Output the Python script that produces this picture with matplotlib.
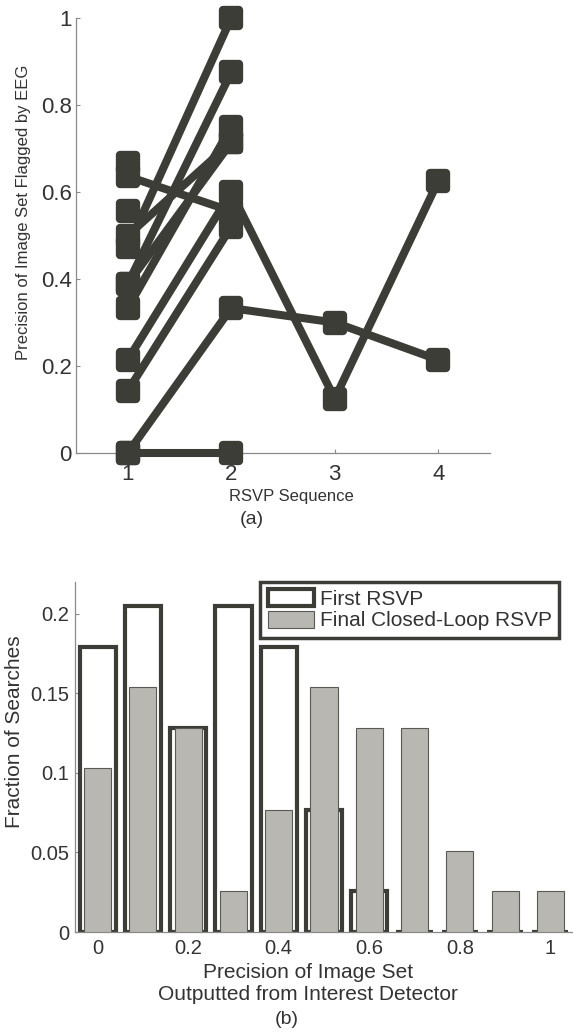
import matplotlib
matplotlib.use("Agg")
import matplotlib.pyplot as plt
from matplotlib.markers import MarkerStyle
from matplotlib.patches import Patch

plt.rcParams["font.family"] = ["Liberation Sans", "DejaVu Sans"]

# (a) precision of the image set flagged by EEG, one list per search
seq_a = [
    [0.474, 1.0],
    [0.389, 0.875],
    [0.333, 0.75],
    [0.389, 0.714],
    [0.5, 0.714],
    [0.636, 0.556],
    [0.667],
    [0.556],
    [0.214, 0.6, 0.125, 0.625],
    [0.143, 0.52],
    [0.0, 0.333, 0.3, 0.214],
    [0.0, 0.0],
]

# (b) histogram of precision, first vs final RSVP
bins_b = [0.0, 0.1, 0.2, 0.3, 0.4, 0.5, 0.6, 0.7, 0.8, 0.9, 1.0]
first_rsvp = [0.179, 0.205, 0.128, 0.205, 0.179, 0.077, 0.026, 0, 0, 0, 0]
final_rsvp = [0.103, 0.154, 0.128, 0.026, 0.077, 0.154, 0.128, 0.128, 0.051, 0.026, 0.026]

dark = "#3d3d37"
gray = "#b9b7b1"
txt = "#333333"
spine = "#8a8a8a"

fig = plt.figure(figsize=(5.73, 10.32), dpi=100)
W, H = 573, 1032


def style_axes(ax, fs):
    for s in ["top", "right"]:
        ax.spines[s].set_visible(False)
    for s in ["left", "bottom"]:
        ax.spines[s].set_color(spine)
        ax.spines[s].set_linewidth(0.9)
    ax.tick_params(direction="in", length=3, color=spine, labelcolor=txt,
                   labelsize=fs)


# ---- (a)
ax1 = fig.add_axes([76 / W, 1 - 453 / H, (490 - 76) / W, (453 - 18) / H])
rounded_sq = MarkerStyle("s", joinstyle="round")
for ys in seq_a:
    xs = list(range(1, len(ys) + 1))
    ax1.plot(xs, ys, "-", marker=rounded_sq, color=dark, lw=5.8, ms=11.5,
             mew=6, mfc=dark, mec=dark, solid_joinstyle="round",
             clip_on=False, zorder=3)
ax1.set_xlim(0.5, 4.5)
ax1.set_ylim(0, 1)
ax1.set_xticks([1, 2, 3, 4])
ax1.set_yticks([0, 0.2, 0.4, 0.6, 0.8, 1])
ax1.set_yticklabels(["0", "0.2", "0.4", "0.6", "0.8", "1"])
style_axes(ax1, 16)
ax1.tick_params(axis="x", pad=8)
ax1.tick_params(axis="y", pad=3)
fig.text(24 / W, 1 - 212 / H, "Precision of Image Set Flagged by EEG",
         rotation=90, ha="center", va="center", fontsize=12, color=txt)
fig.text(291 / W, 1 - 496 / H, "RSVP Sequence", ha="center", va="center",
         fontsize=12, color=txt)
fig.text(252 / W, 1 - 520 / H, "(a)", ha="center", va="center",
         fontsize=14, color=txt)

# ---- (b)
ax2 = fig.add_axes([75 / W, 1 - 932 / H, (573 - 75) / W, (932 - 582) / H])
ax2.bar(bins_b, first_rsvp, width=0.08, facecolor="white", edgecolor=dark,
        linewidth=3, zorder=2)
ax2.bar(bins_b, final_rsvp, width=0.06, facecolor=gray, edgecolor="#5a5a55",
        linewidth=0.8, zorder=3)
ax2.set_xlim(-0.05, 1.05)
ax2.set_ylim(0, 0.22)
ax2.set_xticks([0, 0.2, 0.4, 0.6, 0.8, 1])
ax2.set_xticklabels(["0", "0.2", "0.4", "0.6", "0.8", "1"])
ax2.set_yticks([0, 0.05, 0.1, 0.15, 0.2])
ax2.set_yticklabels(["0", "0.05", "0.1", "0.15", "0.2"])
style_axes(ax2, 14.5)
ax2.tick_params(axis="x", pad=5)
ax2.tick_params(axis="y", pad=4)

handles = [Patch(facecolor="white", edgecolor=dark, linewidth=3),
           Patch(facecolor=gray, edgecolor="#5a5a55", linewidth=0.8)]
leg = ax2.legend(handles, ["First RSVP", "Final Closed-Loop RSVP"],
                 loc="upper right", bbox_to_anchor=(0.972, 1.0),
                 borderaxespad=0, fontsize=15, fancybox=False, framealpha=1,
                 handlelength=2.2, handleheight=0.85, handletextpad=0.3,
                 labelspacing=0.1, borderpad=0.35, labelcolor=txt)
leg.get_frame().set_edgecolor(dark)
leg.get_frame().set_linewidth(2.5)
leg.set_zorder(5)

fig.text(15 / W, 1 - 732 / H, "Fraction of Searches", rotation=90,
         ha="center", va="center", fontsize=15, color=txt)
fig.text(308 / W, 1 - 972 / H, "Precision of Image Set", ha="center",
         va="center", fontsize=15, color=txt)
fig.text(308 / W, 1 - 995 / H, "Outputted from Interest Detector",
         ha="center", va="center", fontsize=15, color=txt)
fig.text(287 / W, 1 - 1020 / H, "(b)", ha="center", va="center",
         fontsize=14, color=txt)

fig.savefig("out.png", dpi=100)
